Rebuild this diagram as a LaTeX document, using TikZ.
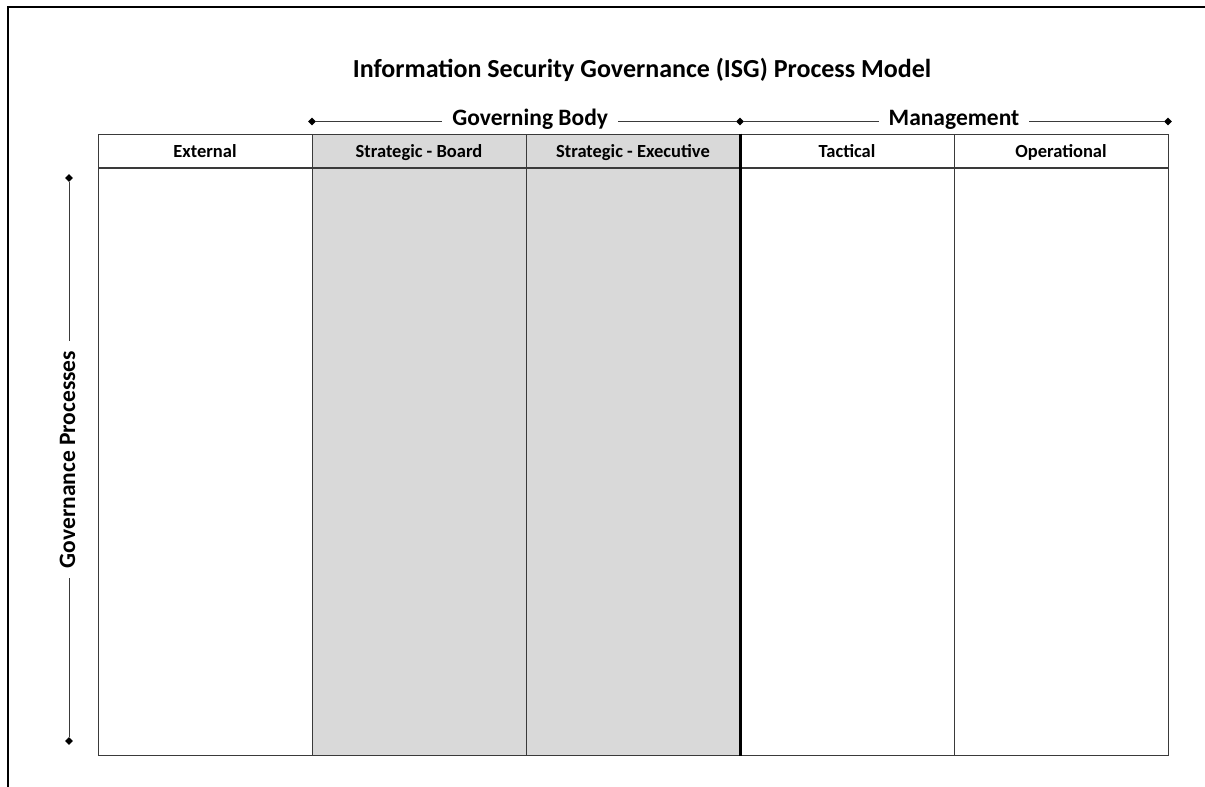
\documentclass[tikz,border=0pt]{standalone}
\usepackage{fontspec}
\setmainfont{Carlito}
\usetikzlibrary{positioning}
\usetikzlibrary{shapes.geometric}

\definecolor{boardgray}{HTML}{D9D9D9}
\definecolor{linegray}{HTML}{3A3A3A}

\begin{document}
\begin{tikzpicture}[x=1pt,y=-1pt,
    head/.style={draw=linegray,line width=1pt,minimum width=214pt,minimum height=33pt,
      inner sep=0pt,text height=16pt,text depth=3pt,font=\bfseries\fontsize{18.5}{20}\selectfont},
    lane/.style={draw=linegray,line width=1pt,minimum width=214pt,minimum height=587pt,inner sep=0pt},
    tip/.style={diamond,fill=black,inner sep=0pt,minimum size=8pt},
    span/.style={line width=0.8pt,linegray},
    spanlabel/.style={fill=white,text=black,inner xsep=10pt,inner ysep=0pt,
      font=\bfseries\fontsize{23.5}{26}\selectfont}]

  \useasboundingbox (0,0) rectangle (1205,787);

  % frame
  \draw [line width=2pt] (8,787) -- (8,7) -- (1205,7);

  \node [anchor=base,inner sep=0pt,font=\bfseries\fontsize{26}{30}\selectfont] (title) at (642,77)
    {Information Security Governance (ISG) Process Model};

  % spans
  \node [tip] (gb-l) at (312,121.5) {};
  \node [tip] (gb-r) at (740,121.5) {};
  \node [tip] (mg-r) at (1168,121.5) {};
  \node [tip] (gp-t) at (69,178) {};
  \node [tip] (gp-b) at (69,741) {};

  \draw [span] (gb-l) -- node [spanlabel,pos=0.51,text height=15pt,text depth=8pt] {Governing Body} (gb-r);
  \draw [span] (gb-r) -- node [spanlabel,text height=15pt,text depth=8pt] {Management} (mg-r);
  \draw [span] (gp-t) -- node [spanlabel,rotate=90,text height=16pt,text depth=4pt] {Governance Processes} (gp-b);

  % columns
  \foreach \name/\lbl/\bg [count=\i from 0] in
      {ext/External/white, board/Strategic - Board/boardgray,
       exec/Strategic - Executive/boardgray, tact/Tactical/white,
       oper/Operational/white} {
    \node [head,fill=\bg] (\name) at (205+214*\i,150.5) {\lbl};
    \node [lane,fill=\bg,below=0pt of \name] (\name-lane) {};
  }

  \draw [line width=2.2pt] (exec.north east) -- (exec-lane.south east);

\end{tikzpicture}
\end{document}
